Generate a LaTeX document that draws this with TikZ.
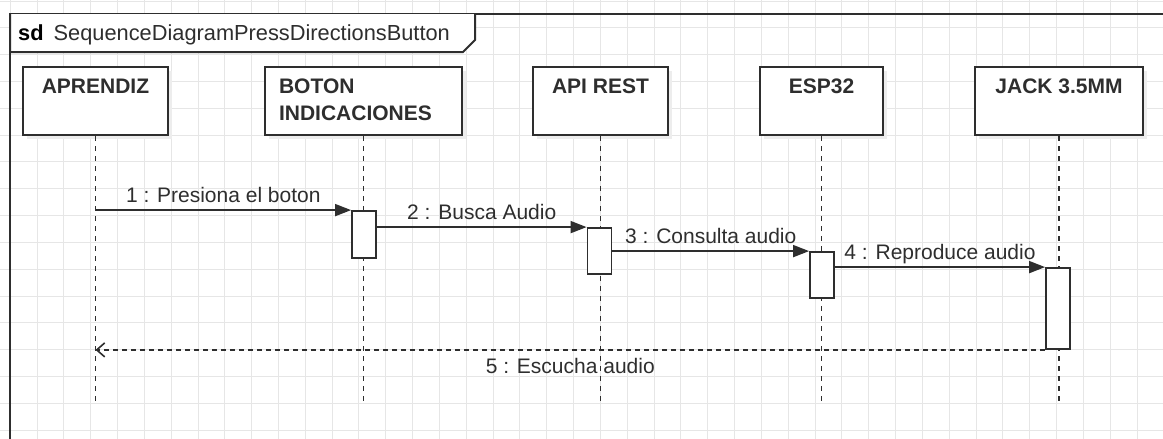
\documentclass[tikz,border=0pt]{standalone}
\usepackage{fontspec}
\setmainfont{Liberation Sans}
\usetikzlibrary{arrows.meta}
\definecolor{ink}{HTML}{2E2E2E}
\definecolor{gridgray}{HTML}{E6E6E6}

\begin{document}
\begin{tikzpicture}[x=1pt,y=-1pt,
  every node/.style={font=\fontsize{21}{27}\selectfont, text=ink},
  head/.style={draw=ink, line width=2pt, fill=white, rectangle, minimum height=68pt, inner sep=0pt},
  headtxt/.style={anchor=north, inner sep=0pt, align=left, font=\fontsize{21}{27}\selectfont\bfseries},
  act/.style={draw=ink, line width=1.8pt, fill=white, rectangle, minimum width=24pt, inner sep=0pt},
  life/.style={draw=ink, line width=1.6pt, dash pattern=on 5pt off 5pt},
  msg/.style={draw=ink, line width=1.7pt, -{Triangle[length=16pt,width=12pt]}},
  reply/.style={draw=ink, line width=1.6pt, dash pattern=on 5pt off 4pt, -{Straight Barb[length=8pt,width=14pt]}},
  msgtxt/.style={anchor=base, inner sep=0pt}]
  \clip (0,0) rectangle (1163,439);
  \useasboundingbox (0,0) rectangle (1163,439);
  \fill[white] (0,0) rectangle (1163,439);

  % grid
  \foreach \k in {0,...,43}{
    \draw[gridgray, line width=1pt] (10.2+26.83*\k,0) -- ++(0,439);
  }
  \foreach \k in {0,...,16}{
    \draw[gridgray, line width=1pt] (0,1+26.83*\k) -- ++(1163,0);
  }

  % frame
  \draw[ink, line width=2pt] (1175,14) -- (10,14) -- (10,450);
  \filldraw[draw=ink, fill=white, line width=2pt] (10,14) -- (10,52) -- (463,52) -- (475,40) -- (475,14);
  \node[anchor=base west, inner sep=0pt, font=\fontsize{21.8}{26}\selectfont] (title) at (18,40) {\textbf{\color{black}sd}\hspace{10pt}SequenceDiagramPressDirectionsButton};

  % lifeline heads: name, center x, width, text, text shift
  \def\drawHead#1#2#3#4#5{
    \fill[black!7] (#2-#3/2+4,71) rectangle (#2+#3/2+4,139);
    \node[head, minimum width=#3pt] (#1) at (#2,101) {};
    \node[headtxt] at ([xshift=#5pt, yshift=-13pt]#1.north) {#4};
  }
  \drawHead{aprendiz}{95.5}{145}{APRENDIZ}{0}
  \drawHead{boton}{363.5}{197}{BOTON\\INDICACIONES}{-8}
  \drawHead{api}{600.5}{135}{API REST}{0}
  \drawHead{esp}{821.5}{123}{ESP32}{0}
  \drawHead{jack}{1059}{168}{JACK 3.5MM}{0}

  \coordinate (bottom) at (0,403);
  \foreach \n in {aprendiz,boton,api,esp,jack}{
    \draw[life] (\n.south) -- (\n.south |- bottom);
  }

  % activations
  \node[act, minimum height=47pt] (act1) at (364,234.5) {};
  \node[act, minimum height=46pt] (act2) at (599.5,251) {};
  \node[act, minimum height=46pt] (act3) at (822,275) {};
  \node[act, minimum height=81pt] (act4) at (1058,308.5) {};

  % messages
  \draw[msg] (aprendiz.south |- act1.north) -- (act1.north west)
    node[msgtxt, midway, yshift=8pt] {1 : Presiona el boton};
  \draw[msg] (act1.east |- act2.north) -- (act2.north west)
    node[msgtxt, midway, yshift=8pt] {2 : Busca Audio};
  \draw[msg] (act2.east |- act3.north) -- (act3.north west)
    node[msgtxt, midway, yshift=8pt] {3 : Consulta audio};
  \draw[msg] (act3.east |- act4.north) -- (act4.north west)
    node[msgtxt, midway, yshift=8pt] {4 : Reproduce audio};
  \draw[reply] (act4.south west) -- (aprendiz.south |- act4.south)
    node[msgtxt, midway, yshift=-24pt] {5 : Escucha audio};
\end{tikzpicture}
\end{document}
